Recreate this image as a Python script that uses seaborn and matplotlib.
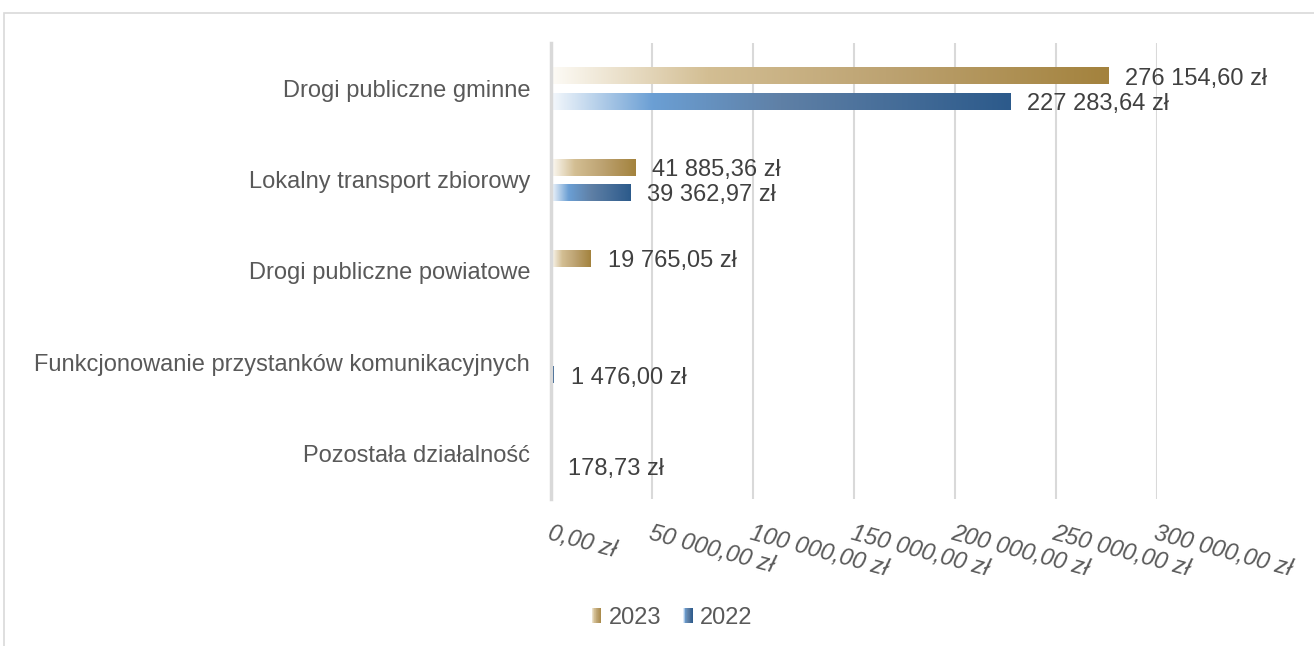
import numpy as np
import pandas as pd
import matplotlib
matplotlib.use("Agg")
import matplotlib.pyplot as plt
import seaborn as sns
from matplotlib.colors import LinearSegmentedColormap
from matplotlib.patches import Rectangle
from matplotlib.legend_handler import HandlerBase

categories = ["Drogi publiczne gminne", "Lokalny transport zbiorowy",
              "Drogi publiczne powiatowe",
              "Funkcjonowanie przystanków komunikacyjnych",
              "Pozostała działalność"]
years = ["2023", "2022"]
values_2023 = [276154.60, 41885.36, 19765.05, np.nan, np.nan]
values_2022 = [227283.64, 39362.97, np.nan, 1476.00, 178.73]
x_ticks = [0, 50000, 100000, 150000, 200000, 250000, 300000]


def pl_money(v):
    return f"{v:,.2f}".replace(",", " ").replace(".", ",") + " zł"


df = pd.DataFrame({
    "kategoria": categories * 2,
    "rok": ["2023"] * len(categories) + ["2022"] * len(categories),
    "wartosc": values_2023 + values_2022,
})

sns.set_theme(style="white")
plt.rcParams['font.family'] = ['Liberation Sans', 'DejaVu Sans']

FS = 17
TXT = "#595959"
LBL = "#404040"

cmaps = {
    "2023": LinearSegmentedColormap.from_list(
        "g", [(0, "#fdfbf6"), (0.28, "#d3be93"), (0.6, "#bda372"), (1, "#a3823d")]),
    "2022": LinearSegmentedColormap.from_list(
        "b", [(0, "#f4f8fc"), (0.22, "#6b9fd4"), (0.5, "#5f80a6"), (1, "#2c5a8b")]),
}

fig = plt.figure(figsize=(13.14, 6.46), dpi=100)
W, H = 1314, 646
ax = fig.add_axes([551 / W, (H - 499) / H, (1157 - 551) / W, (499 - 43) / H])

sns.barplot(data=df, y="kategoria", x="wartosc", hue="rok", hue_order=years,
            order=categories, orient="h", width=0.55, gap=0.33,
            palette={"2023": "#a3823d", "2022": "#2c5a8b"}, saturation=1,
            errorbar=None, legend=False, ax=ax)

ax.set_xlim(0, 300000)
ylim = ax.get_ylim()

grad = np.linspace(0, 1, 256).reshape(1, -1)
for year, cont in zip(years, ax.containers):
    for bar in cont:
        x0, y0 = bar.get_x(), bar.get_y()
        w, h = bar.get_width(), bar.get_height()
        if w > 3000:
            ax.imshow(grad, cmap=cmaps[year], extent=[x0, x0 + w, y0 + h, y0],
                      aspect="auto", zorder=3, interpolation="bilinear")
            bar.set_facecolor("none")
        bar.set_edgecolor("none")
        ax.annotate(pl_money(w), xy=(x0 + w, y0 + h / 2),
                    xytext=(12, -2), textcoords="offset points",
                    ha="left", va="center", fontsize=FS, color=LBL,
                    annotation_clip=False)

ax.set_xlim(0, 300000)
ax.set_ylim(ylim)

ax.set_xticks(x_ticks)
ax.set_xticklabels([pl_money(v) for v in x_ticks], rotation=-15, ha="left",
                   rotation_mode="anchor", fontstyle="italic", color=TXT,
                   fontsize=FS)
ax.tick_params(axis="x", length=0, pad=16)
ax.tick_params(axis="y", length=0, pad=15, labelsize=FS, labelcolor=TXT)
ax.set_xlabel("")
ax.set_ylabel("")

ax.set_axisbelow(True)
ax.grid(axis="x", color="#d9d9d9", lw=1.5)
ax.grid(axis="y", visible=False)
for s in ["top", "right", "bottom"]:
    ax.spines[s].set_visible(False)
ax.spines["left"].set_color("#d9d9d9")
ax.spines["left"].set_linewidth(2.5)
ax.spines["left"].set_zorder(5)


class GradHandler(HandlerBase):
    def __init__(self, cmap):
        super().__init__()
        self.cmap = cmap

    def create_artists(self, legend, orig_handle, xdescent, ydescent,
                       width, height, fontsize, trans):
        n = 12
        arts = []
        for i in range(n):
            arts.append(Rectangle((-xdescent + width * i / n, -ydescent),
                                  width / n, height,
                                  facecolor=self.cmap((i + 0.5) / n),
                                  edgecolor="none", transform=trans))
        return arts


h23 = Rectangle((0, 0), 1, 1)
h22 = Rectangle((0, 0), 1, 1)
fig.legend(handles=[h23, h22], labels=years, loc="center",
           bbox_to_anchor=(672 / W, (H - 618) / H), ncol=2, frameon=False,
           fontsize=FS, labelcolor=TXT, handlelength=0.42, handleheight=0.6,
           handletextpad=0.3, columnspacing=0.93,
           handler_map={h23: GradHandler(cmaps["2023"]),
                        h22: GradHandler(cmaps["2022"])})

fig.patches.append(Rectangle((4 / W, -0.1), 1.2, (H - 13) / H + 0.1,
                             transform=fig.transFigure, fill=False,
                             edgecolor="#d9d9d9", lw=1.2))

fig.savefig("out.png", dpi=100)
